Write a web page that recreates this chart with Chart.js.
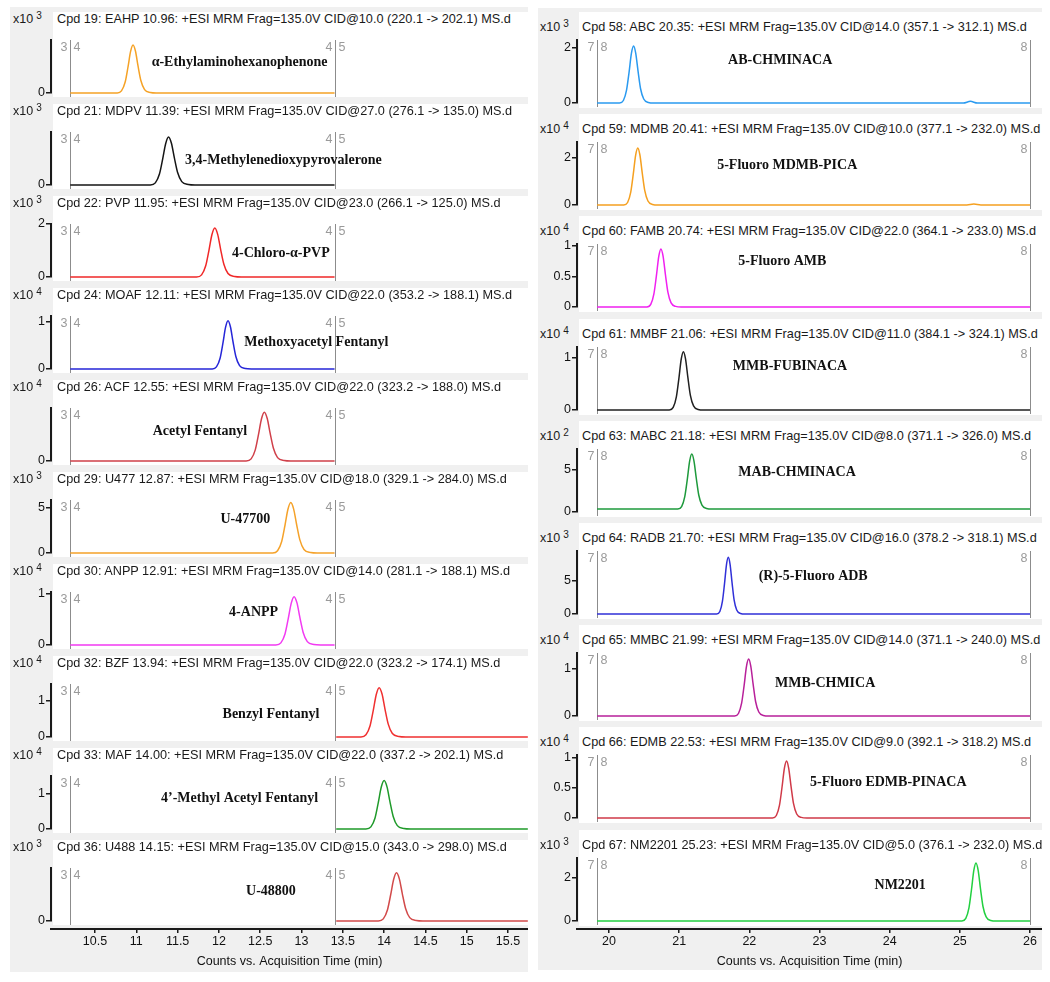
<!DOCTYPE html>
<html>
<head>
<meta charset="utf-8">
<script src="https://cdn.jsdelivr.net/npm/chart.js@4.4.1/dist/chart.umd.min.js"></script>
<style>
  body { margin: 0; background: #fff; width: 1050px; height: 982px; position: relative; overflow: hidden;
         font-family: "Liberation Sans", Arial, sans-serif; }
  .gray { position: absolute; background: #f0f0f0; }
  .box { position: absolute; background: #fff; }
  .title, .mult { position: absolute; font-size: 12.7px; line-height: 14px; color: #1a1a1a; white-space: nowrap; }
  .mult { font-size: 12.5px; }
  .mult sup { font-size: 10px; margin-left: 3px; vertical-align: 4px; line-height: 0; }
  canvas { position: absolute; }
</style>
</head>
<body>
<div class="gray" style="left:10px;top:7px;width:518px;height:965px"></div>
<div class="gray" style="left:538px;top:8px;width:504px;height:962px"></div>
<script>
// ---- left column (segments 4 and 5) ----
const leftTitles = [
  'Cpd 19: EAHP 10.96: +ESI MRM Frag=135.0V CID@10.0 (220.1 -> 202.1) MS.d',
  'Cpd 21: MDPV 11.39: +ESI MRM Frag=135.0V CID@27.0 (276.1 -> 135.0) MS.d',
  'Cpd 22: PVP 11.95: +ESI MRM Frag=135.0V CID@23.0 (266.1 -> 125.0) MS.d',
  'Cpd 24: MOAF 12.11: +ESI MRM Frag=135.0V CID@22.0 (353.2 -> 188.1) MS.d',
  'Cpd 26: ACF 12.55: +ESI MRM Frag=135.0V CID@22.0 (323.2 -> 188.0) MS.d',
  'Cpd 29: U477 12.87: +ESI MRM Frag=135.0V CID@18.0 (329.1 -> 284.0) MS.d',
  'Cpd 30: ANPP 12.91: +ESI MRM Frag=135.0V CID@14.0 (281.1 -> 188.1) MS.d',
  'Cpd 32: BZF 13.94: +ESI MRM Frag=135.0V CID@22.0 (323.2 -> 174.1) MS.d',
  'Cpd 33: MAF 14.00: +ESI MRM Frag=135.0V CID@22.0 (337.2 -> 202.1) MS.d',
  'Cpd 36: U488 14.15: +ESI MRM Frag=135.0V CID@15.0 (343.0 -> 298.0) MS.d'
];
const leftNames = ['α-Ethylaminohexanophenone', '3,4-Methylenedioxypyrovalerone', '4-Chloro-α-PVP',
  'Methoxyacetyl Fentanyl', 'Acetyl Fentanyl', 'U-47700', '4-ANPP', 'Benzyl Fentanyl',
  '4’-Methyl Acetyl Fentanyl', 'U-48800'];
const leftExp = [3, 3, 3, 4, 4, 3, 4, 4, 4, 3];
const leftYMax = [2.43, 4.75, 2, 1.12, 0.652, 5.83, 1.03, 1.46, 1.5, 4.4];
const leftYTicks = [[0], [0], [0, 2], [0, 1], [0], [0, 5], [0, 1], [0, 1], [0, 1], [0]];
const leftTimes = [
  [10.2, 10.77, 10.82, 10.865, 10.90, 10.93, 10.96, 10.99, 11.02, 11.055, 11.10, 11.17, 11.24, 13.4],
  [10.2, 11.17, 11.23, 11.28, 11.32, 11.355, 11.39, 11.425, 11.46, 11.50, 11.55, 11.63, 11.71, 13.4],
  [10.2, 11.73, 11.79, 11.84, 11.88, 11.915, 11.95, 11.985, 12.02, 12.06, 12.11, 12.19, 12.27, 13.4],
  [10.2, 11.92, 11.97, 12.015, 12.05, 12.08, 12.11, 12.14, 12.17, 12.205, 12.25, 12.32, 12.39, 13.4],
  [10.2, 12.33, 12.39, 12.44, 12.48, 12.515, 12.55, 12.585, 12.62, 12.66, 12.71, 12.79, 12.87, 13.4],
  [10.2, 12.65, 12.71, 12.76, 12.80, 12.835, 12.87, 12.905, 12.94, 12.98, 13.03, 13.11, 13.19, 13.4],
  [10.2, 12.69, 12.75, 12.80, 12.84, 12.875, 12.91, 12.945, 12.98, 13.02, 13.07, 13.15, 13.23, 13.4],
  [13.42, 13.72, 13.78, 13.83, 13.87, 13.905, 13.94, 13.975, 14.01, 14.05, 14.10, 14.18, 14.26, 15.74],
  [13.42, 13.78, 13.84, 13.89, 13.93, 13.965, 14.00, 14.035, 14.07, 14.11, 14.16, 14.24, 14.32, 15.74],
  [13.42, 13.93, 13.99, 14.04, 14.08, 14.115, 14.15, 14.185, 14.22, 14.26, 14.31, 14.39, 14.47, 15.74]
];
const leftCounts = [
  [0, 0, 0.097, 0.502, 1.21, 1.894, 2.2, 1.914, 1.254, 0.572, 0.154, 0.022, 0, 0],
  [0, 0, 0.189, 0.980, 2.365, 3.702, 4.3, 3.741, 2.451, 1.118, 0.301, 0.043, 0, 0],
  [0, 0, 0.081, 0.422, 1.018, 1.593, 1.85, 1.610, 1.055, 0.481, 0.130, 0.019, 0, 0],
  [0, 0, 0.045, 0.233, 0.561, 0.878, 1.02, 0.887, 0.581, 0.265, 0.071, 0.010, 0, 0],
  [0, 0, 0.026, 0.137, 0.330, 0.517, 0.6, 0.522, 0.342, 0.156, 0.042, 0.006, 0, 0],
  [0, 0, 0.244, 1.265, 3.053, 4.779, 5.55, 4.829, 3.164, 1.443, 0.389, 0.056, 0, 0],
  [0, 0, 0.041, 0.214, 0.517, 0.809, 0.94, 0.818, 0.536, 0.244, 0.066, 0.009, 0, 0],
  [0, 0, 0.060, 0.310, 0.748, 1.171, 1.36, 1.183, 0.775, 0.354, 0.095, 0.014, 0, 0],
  [0, 0, 0.060, 0.312, 0.754, 1.180, 1.37, 1.192, 0.781, 0.356, 0.096, 0.014, 0, 0],
  [0, 0, 0.176, 0.912, 2.2, 3.444, 4.0, 3.48, 2.28, 1.04, 0.28, 0.04, 0, 0]
];
const leftXTicks = [10.5, 11, 11.5, 12, 12.5, 13, 13.5, 14, 14.5, 15, 15.5];
const leftSegTimes = [10.2, 13.4];
const leftSegNums = [['3', '4'], ['4', '5']];

// ---- right column (segments 7 and 8) ----
const rightTitles = [
  'Cpd 58: ABC 20.35: +ESI MRM Frag=135.0V CID@14.0 (357.1 -> 312.1) MS.d',
  'Cpd 59: MDMB 20.41: +ESI MRM Frag=135.0V CID@10.0 (377.1 -> 232.0) MS.d',
  'Cpd 60: FAMB 20.74: +ESI MRM Frag=135.0V CID@22.0 (364.1 -> 233.0) MS.d',
  'Cpd 61: MMBF 21.06: +ESI MRM Frag=135.0V CID@11.0 (384.1 -> 324.1) MS.d',
  'Cpd 63: MABC 21.18: +ESI MRM Frag=135.0V CID@8.0 (371.1 -> 326.0) MS.d',
  'Cpd 64: RADB 21.70: +ESI MRM Frag=135.0V CID@16.0 (378.2 -> 318.1) MS.d',
  'Cpd 65: MMBC 21.99: +ESI MRM Frag=135.0V CID@14.0 (371.1 -> 240.0) MS.d',
  'Cpd 66: EDMB 22.53: +ESI MRM Frag=135.0V CID@9.0 (392.1 -> 318.2) MS.d',
  'Cpd 67: NM2201 25.23: +ESI MRM Frag=135.0V CID@5.0 (376.1 -> 232.0) MS.d'
];
const rightNames = ['AB-CHMINACA', '5-Fluoro MDMB-PICA', '5-Fluoro AMB', 'MMB-FUBINACA', 'MAB-CHMINACA',
  '(R)-5-Fluoro ADB', 'MMB-CHMICA', '5-Fluoro EDMB-PINACA', 'NM2201'];
const rightExp = [3, 4, 4, 4, 2, 3, 4, 4, 3];
const rightYMax = [2.29, 2.68, 1.03, 1.21, 7.5, 9.55, 1.34, 1.05, 2.93];
const rightYTicks = [[0, 2], [0, 2], [0, 0.5, 1], [0, 1], [0, 5], [0, 5], [0, 1], [0, 0.5, 1], [0, 2]];
const rightTimes = [
  [19.83, 20.15, 20.205, 20.25, 20.285, 20.32, 20.35, 20.38, 20.415, 20.45, 20.495, 20.56, 20.64, 25.05, 25.15, 25.25, 26.0],
  [19.83, 20.21, 20.265, 20.31, 20.345, 20.38, 20.41, 20.44, 20.475, 20.51, 20.555, 20.62, 20.70, 25.1, 25.2, 25.3, 26.0],
  [19.83, 20.54, 20.595, 20.64, 20.675, 20.71, 20.74, 20.77, 20.805, 20.84, 20.885, 20.95, 21.03, 26.0],
  [19.83, 20.86, 20.915, 20.96, 20.995, 21.03, 21.06, 21.09, 21.125, 21.16, 21.205, 21.27, 21.35, 26.0],
  [19.83, 20.98, 21.035, 21.08, 21.115, 21.15, 21.18, 21.21, 21.245, 21.28, 21.325, 21.39, 21.47, 26.0],
  [19.83, 21.534, 21.58, 21.617, 21.646, 21.675, 21.70, 21.725, 21.754, 21.783, 21.82, 21.874, 21.94, 26.0],
  [19.83, 21.79, 21.845, 21.89, 21.925, 21.96, 21.99, 22.02, 22.055, 22.09, 22.135, 22.20, 22.28, 26.0],
  [19.83, 22.33, 22.385, 22.43, 22.465, 22.50, 22.53, 22.56, 22.595, 22.63, 22.675, 22.74, 22.82, 26.0],
  [19.83, 25.03, 25.085, 25.13, 25.165, 25.20, 25.23, 25.26, 25.295, 25.33, 25.375, 25.44, 25.52, 26.0]
];
const rightCounts = [
  [0, 0, 0.091, 0.468, 1.097, 1.811, 2.07, 1.822, 1.139, 0.518, 0.145, 0.021, 0, 0, 0.06, 0, 0],
  [0, 0, 0.107, 0.549, 1.288, 2.126, 2.43, 2.138, 1.337, 0.608, 0.170, 0.024, 0, 0, 0.04, 0, 0],
  [0, 0, 0.042, 0.215, 0.504, 0.831, 0.95, 0.836, 0.523, 0.238, 0.067, 0.010, 0, 0],
  [0, 0, 0.049, 0.253, 0.594, 0.980, 1.12, 0.986, 0.616, 0.280, 0.078, 0.011, 0, 0],
  [0.36, 0.36, 0.648, 1.838, 3.826, 6.083, 6.9, 6.115, 3.957, 1.995, 0.818, 0.425, 0.36, 0.36],
  [0, 0, 0.378, 1.944, 4.558, 7.525, 8.6, 7.568, 4.73, 2.15, 0.602, 0.086, 0, 0],
  [0, 0, 0.053, 0.273, 0.641, 1.059, 1.21, 1.065, 0.666, 0.303, 0.085, 0.012, 0, 0],
  [0, 0, 0.042, 0.215, 0.504, 0.831, 0.95, 0.836, 0.523, 0.238, 0.067, 0.010, 0, 0],
  [0, 0, 0.119, 0.610, 1.431, 2.363, 2.7, 2.376, 1.485, 0.675, 0.189, 0.027, 0, 0]
];
const rightXTicks = [20, 21, 22, 23, 24, 25, 26];
const rightSegTimes = [19.83, 26.0];
const rightSegNums = [['7', '8'], ['8', '']];

// styles and placement
const leftColors = ['#f5a226', '#151515', '#f02828', '#2626d8', '#d0404a', '#f5a22a', '#f23af2', '#f03030', '#1f9a2a', '#d24a4a'];
const rightColors = ['#2a9af0', '#f5a020', '#f020f0', '#202020', '#1e9a3c', '#3030d8', '#b8209a', '#d03a48', '#22d040'];
// compound label anchor: [time, fraction down from plot top]
const leftNamePos = [[12.25, 0.42], [12.78, 0.53], [12.75, 0.55], [13.18, 0.50], [11.77, 0.44],
  [12.32, 0.36], [12.42, 0.38], [12.63, 0.57], [12.25, 0.42], [12.63, 0.44]];
const rightNamePos = [[22.44, 0.33], [22.54, 0.37], [22.47, 0.27], [22.58, 0.30], [22.68, 0.37],
  [22.91, 0.40], [23.08, 0.48], [23.98, 0.44], [24.15, 0.43]];

const leftCol = { canvasLeft: 10, width: 518, axisW: 41, xMin: 9.967, xMax: 15.742,
  plotTop: 40, step: 92, plotH: 52.5, boxLeft: 53, boxTop: 12, boxH: 85,
  titleLeft: 57, titleY: 19, multLeft: 13, xTicks: leftXTicks, segTimes: leftSegTimes, segNums: leftSegNums };
const rightCol = { canvasLeft: 538, width: 504, axisW: 39, xMin: 19.544, xMax: 26.171,
  plotTop: 40, step: 102.2, plotH: 63, boxLeft: 579, boxTop: 12, boxH: 96,
  titleLeft: 582, titleY: 27, multLeft: 540, xTicks: rightXTicks, segTimes: rightSegTimes, segNums: rightSegNums };

const sans = '"Liberation Sans", Arial, sans-serif';

const panelDeco = {
  id: 'panelDeco',
  beforeDatasetsDraw(chart, args, opts) {
    if (!opts.segTimes) return;
    const { ctx, chartArea } = chart;
    const xs = chart.scales.x;
    ctx.save();
    ctx.strokeStyle = '#8c8c8c';
    ctx.lineWidth = 1;
    ctx.fillStyle = '#9a9a9a';
    ctx.font = '12.5px ' + sans;
    ctx.textBaseline = 'middle';
    opts.segTimes.forEach((t, k) => {
      const x = Math.round(xs.getPixelForValue(t)) + 0.5;
      ctx.beginPath();
      ctx.moveTo(x, chartArea.top);
      ctx.lineTo(x, chartArea.bottom + 4);
      ctx.stroke();
      const y = chartArea.top + 8;
      ctx.textAlign = 'right';
      ctx.fillText(opts.segNums[k][0], x - 3, y);
      ctx.textAlign = 'left';
      ctx.fillText(opts.segNums[k][1], x + 3, y);
    });
    ctx.restore();
  },
  afterDatasetsDraw(chart, args, opts) {
    if (!opts.name) return;
    const { ctx, chartArea } = chart;
    ctx.save();
    ctx.font = 'bold 14px "Liberation Serif", "Times New Roman", serif';
    ctx.fillStyle = '#111';
    ctx.textAlign = 'center';
    ctx.textBaseline = 'middle';
    ctx.fillText(opts.name, chart.scales.x.getPixelForValue(opts.pos[0]),
      chartArea.top + opts.pos[1] * chartArea.height);
    ctx.restore();
  }
};
Chart.register(panelDeco);

function addDiv(cls, left, top, w, h, html) {
  const d = document.createElement('div');
  d.className = cls;
  d.style.left = left + 'px';
  d.style.top = top + 'px';
  if (w) d.style.width = w + 'px';
  if (h) d.style.height = h + 'px';
  if (html) d.innerHTML = html;
  document.body.appendChild(d);
  return d;
}

function addCanvas(left, top, w, h) {
  const c = document.createElement('canvas');
  c.width = w; c.height = h;
  c.style.left = left + 'px';
  c.style.top = top + 'px';
  c.style.width = w + 'px';
  c.style.height = h + 'px';
  document.body.appendChild(c);
  return c;
}

function drawPanel(col, i, title, name, exp, yMax, yTicks, times, counts, color, namePos) {
  const top = col.plotTop + col.step * i;
  addDiv('box', col.boxLeft, Math.round(col.boxTop + col.step * i), col.width + col.canvasLeft - col.boxLeft, col.boxH);
  addDiv('title', col.titleLeft, Math.round(col.titleY + col.step * i - 7), 0, 0, title);
  addDiv('mult', col.multLeft, Math.round(col.titleY + col.step * i - 7), 0, 0, 'x10<sup>' + exp + '</sup>');
  const pad = 10;
  const canvas = addCanvas(col.canvasLeft, Math.round(top) - pad, col.width, Math.round(col.plotH) + 2 * pad);
  new Chart(canvas, {
    type: 'line',
    data: {
      datasets: [{
        data: times.map((t, k) => ({ x: t, y: counts[k] })),
        borderColor: color,
        borderWidth: 1.5,
        pointRadius: 0,
        fill: false,
        cubicInterpolationMode: 'monotone',
        clip: false
      }]
    },
    options: {
      animation: false,
      responsive: false,
      devicePixelRatio: 1,
      layout: { padding: { top: pad, bottom: pad, left: 0, right: 0 } },
      plugins: {
        legend: { display: false },
        tooltip: { enabled: false },
        panelDeco: { segTimes: col.segTimes, segNums: col.segNums, name: name, pos: namePos }
      },
      scales: {
        x: { type: 'linear', min: col.xMin, max: col.xMax, display: false },
        y: {
          min: 0, max: yMax,
          afterBuildTicks: s => { s.ticks = yTicks.map(v => ({ value: v })); },
          afterFit: s => { s.width = col.axisW; },
          border: { display: true, color: '#1a1a1a', width: 2 },
          grid: { display: true, drawOnChartArea: false, drawTicks: true, tickLength: 5, color: '#1a1a1a', lineWidth: 1.5 },
          ticks: { color: '#111', font: { family: sans, size: 12.5 }, padding: 1, callback: v => String(v) }
        }
      }
    }
  });
}

function drawAxis(col) {
  const canvas = addCanvas(col.canvasLeft, 921, col.width, 56);
  new Chart(canvas, {
    type: 'line',
    data: { datasets: [] },
    options: {
      animation: false,
      responsive: false,
      devicePixelRatio: 1,
      layout: { padding: { left: col.axisW, right: 0, top: 0, bottom: 0 } },
      plugins: { legend: { display: false }, tooltip: { enabled: false } },
      scales: {
        x: {
          type: 'linear', min: col.xMin, max: col.xMax,
          afterBuildTicks: s => { s.ticks = col.xTicks.map(v => ({ value: v })); },
          afterFit: s => { s.height = 48; },
          border: { display: true, color: '#1a1a1a', width: 2 },
          grid: { display: true, drawOnChartArea: false, drawTicks: true, tickLength: 4, color: '#1a1a1a', lineWidth: 1.5 },
          ticks: { color: '#111', font: { family: sans, size: 12.5 }, padding: 1, maxRotation: 0, autoSkip: false,
                   callback: v => String(v) },
          title: { display: true, text: 'Counts vs. Acquisition Time (min)', color: '#111',
                   font: { family: sans, size: 12.5 }, padding: { top: 0, bottom: 8 } }
        },
        y: { display: false, min: 0, max: 1 }
      }
    }
  });
}

leftTitles.forEach((t, i) => drawPanel(leftCol, i, t, leftNames[i], leftExp[i], leftYMax[i], leftYTicks[i],
  leftTimes[i], leftCounts[i], leftColors[i], leftNamePos[i]));
rightTitles.forEach((t, i) => drawPanel(rightCol, i, t, rightNames[i], rightExp[i], rightYMax[i], rightYTicks[i],
  rightTimes[i], rightCounts[i], rightColors[i], rightNamePos[i]));
drawAxis(leftCol);
drawAxis(rightCol);
</script>
</body>
</html>
